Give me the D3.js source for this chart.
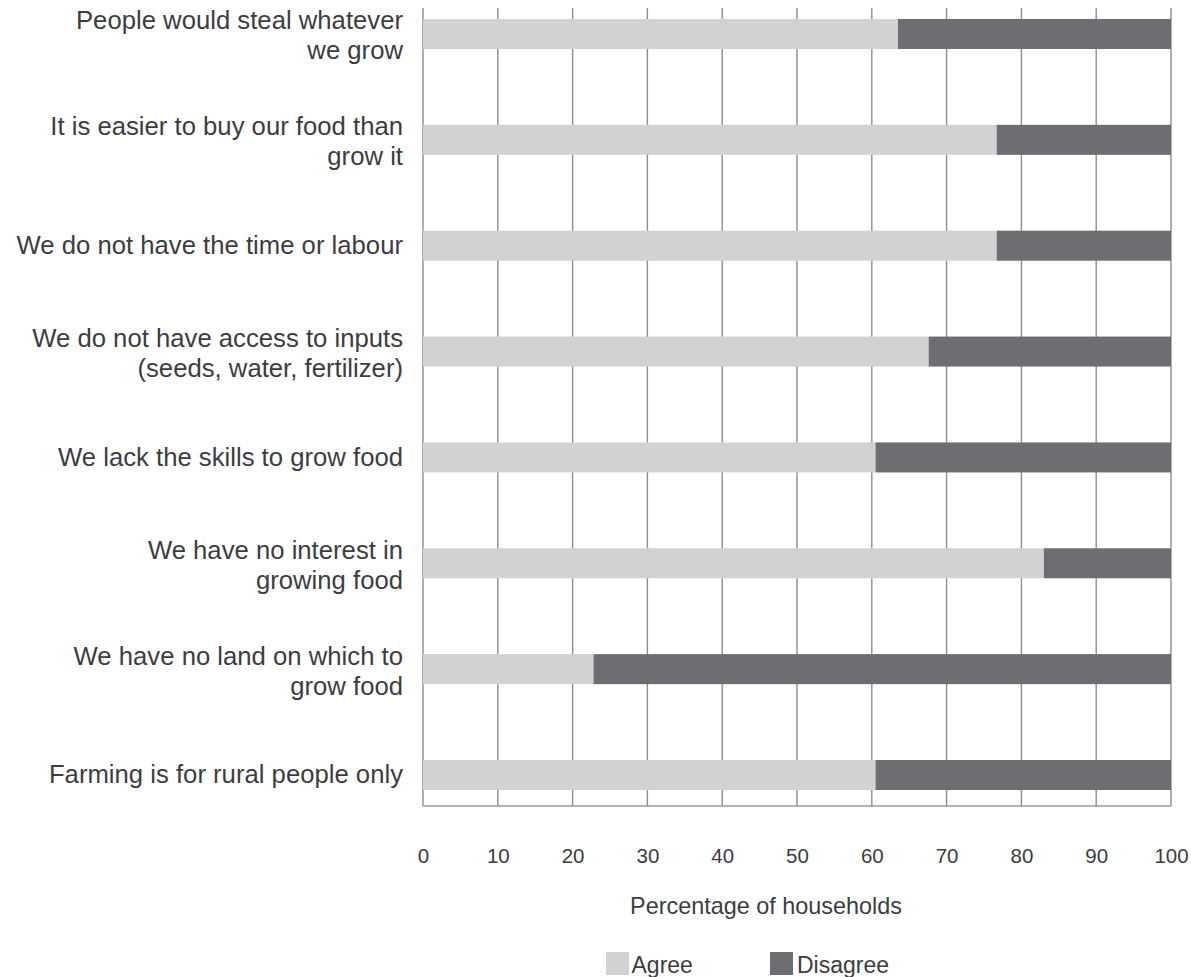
<!DOCTYPE html>
<html>
<head>
<meta charset="utf-8">
<script src="https://cdn.jsdelivr.net/npm/d3@7"></script>
<style>
  html, body { margin: 0; padding: 0; background: #ffffff; }
  svg { display: block; }
  text { font-family: "Liberation Sans", Arial, Helvetica, sans-serif; fill: #3d3d3f; }
</style>
</head>
<body>
<svg id="chart" width="1191" height="977"></svg>
<script>
// Reasons for not growing food — share of households agreeing / disagreeing
const categories = [
  "People would steal whatever\nwe grow",
  "It is easier to buy our food than\ngrow it",
  "We do not have the time or labour",
  "We do not have access to inputs\n(seeds, water, fertilizer)",
  "We lack the skills to grow food",
  "We have no interest in\ngrowing food",
  "We have no land on which to\ngrow food",
  "Farming is for rural people only"
];
const agree    = [63.5, 76.7, 76.7, 67.6, 60.5, 83.0, 22.8, 60.5];
const disagree = agree.map(a => 100 - a);
const seriesNames = ["Agree", "Disagree"];
const seriesColors = ["#d1d2d4", "#6d6e71"];
const xTicks = [0, 10, 20, 30, 40, 50, 60, 70, 80, 90, 100];
const xTitle = "Percentage of households";

const svg = d3.select("#chart");

const plot = { left: 423, right: 1171, top: 8, bottom: 806 };

const x = d3.scaleLinear().domain([0, 100]).range([plot.left, plot.right]);
const y = d3.scaleBand()
  .domain(categories)
  .range([plot.top, plot.bottom])
  .paddingInner(0.7166)
  .paddingOuter(0.1275)
  .align(0.407);

// vertical gridlines (0 doubles as the left axis)
svg.append("g")
  .selectAll("line")
  .data(xTicks)
  .join("line")
  .attr("x1", d => x(d)).attr("x2", d => x(d))
  .attr("y1", plot.top).attr("y2", plot.bottom)
  .attr("stroke", "#8d8d8d")
  .attr("stroke-width", 1.4);

// bottom baseline
svg.append("line")
  .attr("x1", x(0)).attr("x2", x(100))
  .attr("y1", plot.bottom).attr("y2", plot.bottom)
  .attr("stroke", "#9a9a9c")
  .attr("stroke-width", 1.4);

// stacked bars
const rows = categories.map((c, i) => ({ cat: c, values: [agree[i], disagree[i]] }));
const stack = d3.stack().keys([0, 1]).value((d, k) => d.values[k]);
const layers = stack(rows);

svg.append("g")
  .selectAll("g")
  .data(layers)
  .join("g")
  .attr("fill", (d, i) => seriesColors[i])
  .selectAll("rect")
  .data(d => d)
  .join("rect")
  .attr("x", d => x(d[0]))
  .attr("width", d => x(d[1]) - x(d[0]))
  .attr("y", d => y(d.data.cat))
  .attr("height", y.bandwidth());

// category labels, right aligned, one or two lines
const labelG = svg.append("g");
categories.forEach(c => {
  const lines = c.split("\n");
  const cy = y(c) + y.bandwidth() / 2;
  const first = lines.length === 1 ? cy + 8.5 : cy - 4.5;
  const t = labelG.append("text")
    .attr("text-anchor", "end")
    .attr("font-size", "25.7px");
  lines.forEach((ln, j) => {
    t.append("tspan")
      .attr("x", 403)
      .attr("y", first + j * 30)
      .text(ln);
  });
});

// x tick labels
const xAxis = d3.axisBottom(x).tickValues(xTicks).tickSize(0).tickPadding(0).tickFormat(d3.format("d"));
const axisG = svg.append("g")
  .attr("transform", `translate(0, ${plot.bottom})`)
  .call(xAxis);
axisG.select(".domain").remove();
axisG.selectAll("text")
  .attr("font-size", "20.5px")
  .attr("dy", null)
  .attr("y", 57)
  .attr("fill", "#3d3d3f")
  .style("font-family", "'Liberation Sans', Arial, Helvetica, sans-serif");

// axis title
svg.append("text")
  .attr("x", 766)
  .attr("y", 914)
  .attr("text-anchor", "middle")
  .attr("font-size", "23.4px")
  .text(xTitle);

// legend
const legendX = [606, 770];
const legend = svg.append("g");
seriesNames.forEach((name, i) => {
  legend.append("rect")
    .attr("x", legendX[i]).attr("y", 952)
    .attr("width", 23).attr("height", 23)
    .attr("fill", seriesColors[i]);
  legend.append("text")
    .attr("x", legendX[i] + (i === 0 ? 25.5 : 27))
    .attr("y", 973)
    .attr("font-size", "23px")
    .text(name);
});
</script>
</body>
</html>
